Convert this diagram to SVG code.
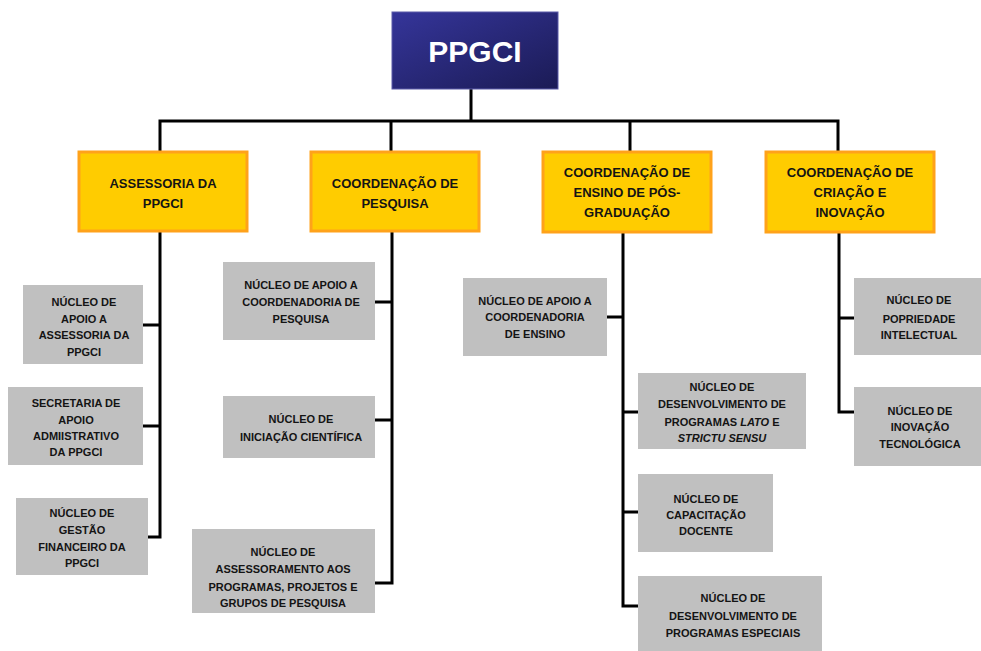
<svg xmlns="http://www.w3.org/2000/svg" width="981" height="651" viewBox="0 0 981 651">
<defs>
<linearGradient id="hdr" x1="0" y1="0" x2="1" y2="1">
<stop offset="0" stop-color="#35359a"/>
<stop offset="1" stop-color="#1b1b55"/>
</linearGradient>
<style>
.conn{fill:none;stroke:#000;stroke-width:3;stroke-linejoin:miter}
.y rect{fill:#FFCC00;stroke:#FFA21A;stroke-width:3}
.g rect{fill:#C0C0C0}
text{font-family:"Liberation Sans",Arial,sans-serif;font-weight:bold;text-anchor:middle;fill:#141414}
.y text{font-size:13px}
.g text{font-size:11px}
.h text{font-size:30px;fill:#fff}
</style>
</defs>
<rect width="981" height="651" fill="#fff"/>
<g id="connectors" class="conn">
<path class="conn" d="M471 89V121M160 152V121H838V152M391 121V152M630 121V152"/>
<path class="conn" d="M160 231V537H148M143 325H160M143 426H160"/>
<path class="conn" d="M392 231V583H375M375 302H392M375 420H392"/>
<path class="conn" d="M623 232V606H638M607 317H623M623 412H638M623 512H638"/>
<path class="conn" d="M839 232V412H854M839 318H854"/>
</g>
<g id="ppgci" class="h">
<rect x="392" y="12" width="166" height="77" fill="url(#hdr)" stroke="#5a5aa8" stroke-width="1"/>
<text x="475" y="62">PPGCI</text>
</g>
<g id="assessoria" class="y">
<rect x="79" y="152" width="168" height="79"/>
<text x="163" y="187.5">ASSESSORIA DA</text>
<text x="163" y="207.5">PPGCI</text>
</g>
<g id="coord-pesquisa" class="y">
<rect x="311" y="152" width="168" height="79"/>
<text x="395" y="187.5">COORDENAÇÃO DE</text>
<text x="395" y="207.5">PESQUISA</text>
</g>
<g id="coord-ensino" class="y">
<rect x="543" y="152" width="168" height="80"/>
<text x="627" y="176.5">COORDENAÇÃO DE</text>
<text x="627" y="196.5">ENSINO DE PÓS-</text>
<text x="627" y="216.5">GRADUAÇÃO</text>
</g>
<g id="coord-criacao" class="y">
<rect x="766" y="152" width="168" height="80"/>
<text x="850" y="176.5">COORDENAÇÃO DE</text>
<text x="850" y="196.5">CRIAÇÃO E</text>
<text x="850" y="216.5">INOVAÇÃO</text>
</g>
<g id="n-apoio-assessoria" class="g">
<rect x="23" y="285" width="120" height="79"/>
<text x="84" y="306">NÚCLEO DE</text>
<text x="84" y="323">APOIO A</text>
<text x="84" y="339">ASSESSORIA DA</text>
<text x="84" y="356">PPGCI</text>
</g>
<g id="secretaria" class="g">
<rect x="8" y="387" width="135" height="78"/>
<text x="76" y="407">SECRETARIA DE</text>
<text x="76" y="424">APOIO</text>
<text x="76" y="440">ADMIISTRATIVO</text>
<text x="76" y="456">DA PPGCI</text>
</g>
<g id="n-gestao" class="g">
<rect x="16" y="498" width="132" height="77"/>
<text x="82" y="517">NÚCLEO DE</text>
<text x="82" y="534">GESTÃO</text>
<text x="82" y="551">FINANCEIRO DA</text>
<text x="82" y="567">PPGCI</text>
</g>
<g id="n-apoio-pesquisa" class="g">
<rect x="223" y="262" width="152" height="78"/>
<text x="301" y="289">NÚCLEO DE APOIO A</text>
<text x="301" y="306">COORDENADORIA DE</text>
<text x="301" y="323">PESQUISA</text>
</g>
<g id="n-iniciacao" class="g">
<rect x="223" y="396" width="152" height="62"/>
<text x="301" y="423">NÚCLEO DE</text>
<text x="301" y="441">INICIAÇÃO CIENTÍFICA</text>
</g>
<g id="n-assessoramento" class="g">
<rect x="192" y="529" width="183" height="84"/>
<text x="283" y="556">NÚCLEO DE</text>
<text x="283" y="573">ASSESSORAMENTO AOS</text>
<text x="283" y="591">PROGRAMAS, PROJETOS E</text>
<text x="283" y="607">GRUPOS DE PESQUISA</text>
</g>
<g id="n-apoio-ensino" class="g">
<rect x="463" y="278" width="144" height="78"/>
<text x="535" y="305">NÚCLEO DE APOIO A</text>
<text x="535" y="321">COORDENADORIA</text>
<text x="535" y="338">DE ENSINO</text>
</g>
<g id="n-lato" class="g">
<rect x="638" y="373" width="168" height="76"/>
<text x="722" y="391">NÚCLEO DE</text>
<text x="722" y="408">DESENVOLVIMENTO DE</text>
<text x="722" y="426">PROGRAMAS <tspan font-style="italic">LATO</tspan> E</text>
<text x="722" y="442" font-style="italic">STRICTU SENSU</text>
</g>
<g id="n-capacitacao" class="g">
<rect x="638" y="474" width="135" height="78"/>
<text x="706" y="503">NÚCLEO DE</text>
<text x="706" y="519">CAPACITAÇÃO</text>
<text x="706" y="535">DOCENTE</text>
</g>
<g id="n-especiais" class="g">
<rect x="638" y="576" width="184" height="75"/>
<text x="733" y="602">NÚCLEO DE</text>
<text x="733" y="620">DESENVOLVIMENTO DE</text>
<text x="733" y="637">PROGRAMAS ESPECIAIS</text>
</g>
<g id="n-propriedade" class="g">
<rect x="854" y="278" width="127" height="77"/>
<text x="919" y="304">NÚCLEO DE</text>
<text x="919" y="323">POPRIEDADE</text>
<text x="919" y="339">INTELECTUAL</text>
</g>
<g id="n-inovacao" class="g">
<rect x="854" y="387" width="127" height="79"/>
<text x="920" y="415">NÚCLEO DE</text>
<text x="920" y="431">INOVAÇÃO</text>
<text x="920" y="448">TECNOLÓGICA</text>
</g>
</svg>
